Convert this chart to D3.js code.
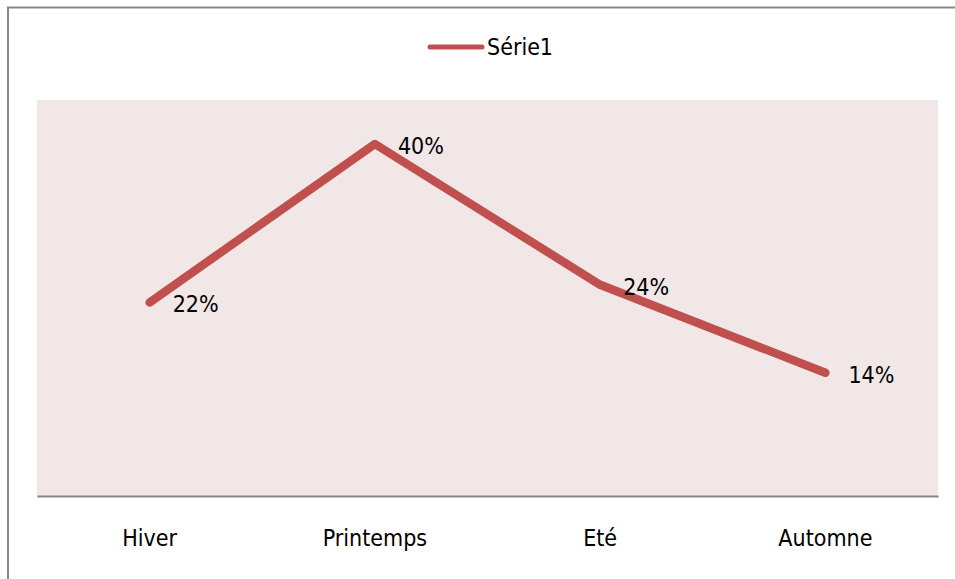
<!DOCTYPE html>
<html><head><meta charset="utf-8">
<script src="https://cdn.jsdelivr.net/npm/d3@7"></script>
<style>body{margin:0;background:#fff;} text{font-family:"DejaVu Sans Condensed","DejaVu Sans",sans-serif;fill:#000;}</style>
</head><body>
<svg id="c" width="955" height="579"></svg>
<script>
const categories = ["Hiver", "Printemps", "Eté", "Automne"];
const values = [0.22, 0.40, 0.24, 0.14];
const seriesName = "Série1";
const labels = ["22%", "40%", "24%", "14%"];

const svg = d3.select("#c");
const plot = {left: 37, right: 938, top: 100, bottom: 496};

// outer border
svg.append("rect").attr("x", 8).attr("y", 7.5).attr("width", 1000).attr("height", 1000)
  .attr("fill", "none").attr("stroke", "#878787").attr("stroke-width", 2);

// plot background
svg.append("rect").attr("x", plot.left).attr("y", plot.top)
  .attr("width", plot.right - plot.left).attr("height", plot.bottom - plot.top)
  .attr("fill", "#F2E7E7");

const x = d3.scaleBand().domain(categories).range([plot.left, plot.right]);
const y = d3.scaleLinear().domain([0, 0.45]).range([plot.bottom, plot.top]);
const cx = d => x(d) + x.bandwidth() / 2;

// x axis
const xAxis = d3.axisBottom(x).tickSize(0).tickPadding(34);
const gx = svg.append("g").attr("transform", `translate(0,${plot.bottom})`).call(xAxis);
gx.select(".domain").attr("stroke", "#878787").attr("stroke-width", 2);
gx.selectAll("text").attr("font-size", 23).attr("fill", "#000")
  .attr("font-family", '"DejaVu Sans Condensed","DejaVu Sans",sans-serif');

// line
const data = categories.map((c, i) => ({c, v: values[i], l: labels[i]}));
svg.append("path").datum(data)
  .attr("d", d3.line().x(d => cx(d.c)).y(d => y(d.v)))
  .attr("fill", "none").attr("stroke", "#C0504D").attr("stroke-width", 8.5)
  .attr("stroke-linecap", "round").attr("stroke-linejoin", "round");

// data labels
svg.selectAll("text.lbl").data(data).enter().append("text").attr("class", "lbl")
  .attr("x", d => cx(d.c) + 23).attr("y", d => y(d.v) + 10)
  .attr("font-size", 23).text(d => d.l);

// legend
const lg = svg.append("g");
lg.append("line").attr("x1", 430).attr("x2", 482).attr("y1", 47).attr("y2", 47)
  .attr("stroke", "#C0504D").attr("stroke-width", 5).attr("stroke-linecap", "round");
lg.append("text").attr("x", 487).attr("y", 55).attr("font-size", 23).text(seriesName);
</script>
</body></html>
